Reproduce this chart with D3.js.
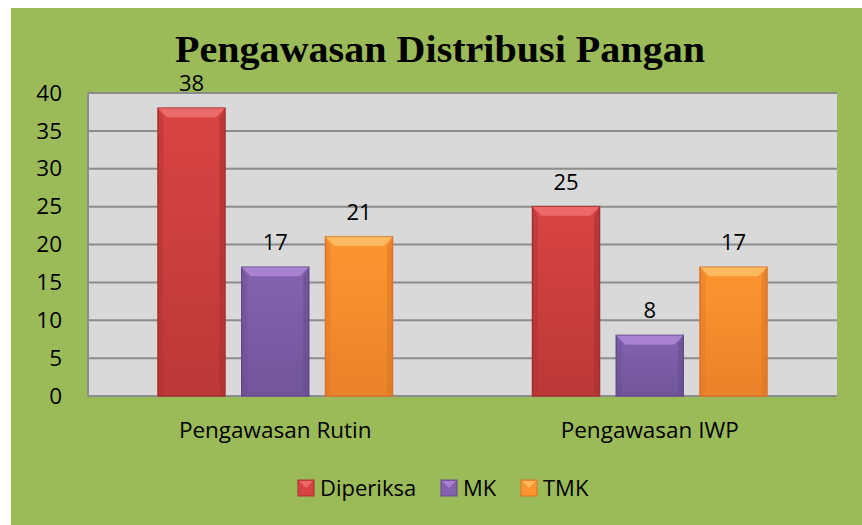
<!DOCTYPE html>
<html lang="en">
<head>
    <meta charset="UTF-8">
    <title>Pengawasan Distribusi Pangan</title>
    <script src="https://d3js.org/d3.v7.min.js"></script>
    <style>
        body { margin: 0; background: #fff; }
        text { font-family: "Open Sans", "Noto Sans", sans-serif; fill: #000; }
        .title { font-family: "Liberation Serif", "DejaVu Serif", serif; font-weight: bold; }
    </style>
</head>
<body>
    <div id="chart"></div>
    <script>
        var categories = ["Pengawasan Rutin", "Pengawasan IWP"];
        var series = ["Diperiksa", "MK", "TMK"];
        var diperiksa = [38, 25];
        var mk = [17, 8];
        var tmk = [21, 17];
        var yTicks = [0, 5, 10, 15, 20, 25, 30, 35, 40];

        var values = { "Diperiksa": diperiksa, "MK": mk, "TMK": tmk };

        // colors: [light top, main, dark bottom]
        var colors = {
            "Diperiksa": ["#f07070", "#d94443", "#a52f2f"],
            "MK": ["#b08ad8", "#8462b0", "#644a8a"],
            "TMK": ["#ffc06a", "#fc9530", "#dc7424"]
        };

        var W = 862, H = 525;
        var margin = {top: 93, right: 25, bottom: 129, left: 88};
        var width = W - margin.left - margin.right,
            height = H - margin.top - margin.bottom;

        var svg = d3.select("#chart").append("svg")
            .attr("width", W).attr("height", H);

        // background
        svg.append("rect")
            .attr("x", 11).attr("y", 8)
            .attr("width", W - 11).attr("height", H - 8)
            .attr("fill", "#9bbb59");

        var defs = svg.append("defs");
        series.forEach(function(s, i) {
            var g = defs.append("linearGradient")
                .attr("id", "grad" + i)
                .attr("x1", 0).attr("y1", 0).attr("x2", 0).attr("y2", 1);
            g.append("stop").attr("offset", "0%").attr("stop-color", colors[s][1]);
            g.append("stop").attr("offset", "100%").attr("stop-color", d3.interpolateRgb(colors[s][1], colors[s][2])(0.55));
        });

        svg.append("text")
            .attr("class", "title")
            .attr("x", 440).attr("y", 62)
            .attr("text-anchor", "middle")
            .attr("textLength", 530)
            .attr("lengthAdjust", "spacingAndGlyphs")
            .style("font-size", "37px")
            .text("Pengawasan Distribusi Pangan");

        var g = svg.append("g")
            .attr("transform", "translate(" + margin.left + "," + margin.top + ")");

        var y = d3.scaleLinear().domain([0, 40]).range([height, 0]);
        var x0 = d3.scaleBand().domain(categories).range([0, width]);
        var x1 = d3.scaleBand().domain(series).range([70, x0.bandwidth() - 70]).paddingInner(0.2);

        // plot area
        g.append("rect")
            .attr("width", width).attr("height", height)
            .attr("fill", "#d9d9d9");

        g.selectAll(".grid")
            .data(yTicks)
            .enter().append("line")
            .attr("x1", 0).attr("x2", width)
            .attr("y1", function(d) { return y(d); })
            .attr("y2", function(d) { return y(d); })
            .attr("stroke", "#8c8c8c")
            .attr("stroke-width", 2);

        g.append("line")
            .attr("x1", 0).attr("x2", 0).attr("y1", 0).attr("y2", height)
            .attr("stroke", "#8c8c8c").attr("stroke-width", 2);

        // y axis labels
        var yAxis = g.append("g")
            .call(d3.axisLeft(y).tickValues(yTicks).tickSize(0).tickPadding(26));
        yAxis.select(".domain").remove();
        yAxis.selectAll("text").style("font-size", "22.5px").style("font-family", "Open Sans, sans-serif");

        // x axis labels
        var xAxis = g.append("g")
            .attr("transform", "translate(0," + height + ")")
            .call(d3.axisBottom(x0).tickSize(0).tickPadding(26));
        xAxis.select(".domain").remove();
        xAxis.selectAll("text").style("font-size", "22.5px").style("font-family", "Open Sans, sans-serif");

        // bars with a bevel
        var bv = 9;
        var groups = g.selectAll(".grp")
            .data(categories)
            .enter().append("g")
            .attr("transform", function(d) { return "translate(" + x0(d) + ",0)"; });

        groups.each(function(cat, ci) {
            var gg = d3.select(this);
            series.forEach(function(s, si) {
                var v = values[s][ci];
                var bx = x1(s), bw = x1.bandwidth(), by = y(v), bh = height - y(v);
                var c = colors[s];
                gg.append("rect")
                    .attr("x", bx).attr("y", by).attr("width", bw).attr("height", bh)
                    .attr("fill", "url(#grad" + si + ")")
                    .attr("stroke", c[2]).attr("stroke-width", 1.5);
                // top bevel
                gg.append("path")
                    .attr("d", "M" + bx + "," + by + "L" + (bx + bw) + "," + by +
                        "L" + (bx + bw - bv) + "," + (by + bv) + "L" + (bx + bv) + "," + (by + bv) + "Z")
                    .attr("fill", c[0]).attr("opacity", 0.85);
                // left bevel
                gg.append("path")
                    .attr("d", "M" + bx + "," + by + "L" + (bx + bv * 0.6) + "," + (by + bv) +
                        "L" + (bx + bv * 0.6) + "," + (by + bh - 3) + "L" + bx + "," + (by + bh) + "Z")
                    .attr("fill", c[2]).attr("opacity", 0.35);
                // right bevel
                gg.append("path")
                    .attr("d", "M" + (bx + bw) + "," + by + "L" + (bx + bw - bv * 0.6) + "," + (by + bv) +
                        "L" + (bx + bw - bv * 0.6) + "," + (by + bh - 3) + "L" + (bx + bw) + "," + (by + bh) + "Z")
                    .attr("fill", c[2]).attr("opacity", 0.55);
                // data label
                gg.append("text")
                    .attr("x", bx + bw / 2).attr("y", by - 17)
                    .attr("text-anchor", "middle")
                    .style("font-size", "22px")
                    .text(v);
            });
        });

        // legend
        var legendX = [298, 441, 521];
        var legend = svg.selectAll(".legend")
            .data(series)
            .enter().append("g")
            .attr("transform", function(d, i) { return "translate(" + legendX[i] + ",480)"; });

        legend.append("rect")
            .attr("width", 16).attr("height", 16)
            .attr("fill", function(d) { return colors[d][1]; })
            .attr("stroke", function(d) { return colors[d][2]; });
        legend.append("path")
            .attr("d", "M1,1L15,1L8,8Z")
            .attr("fill", function(d) { return colors[d][0]; })
            .attr("opacity", 0.8);
        legend.append("text")
            .attr("x", 22).attr("y", 16)
            .style("font-size", "22px")
            .text(function(d) { return d; });
    </script>
</body>
</html>
